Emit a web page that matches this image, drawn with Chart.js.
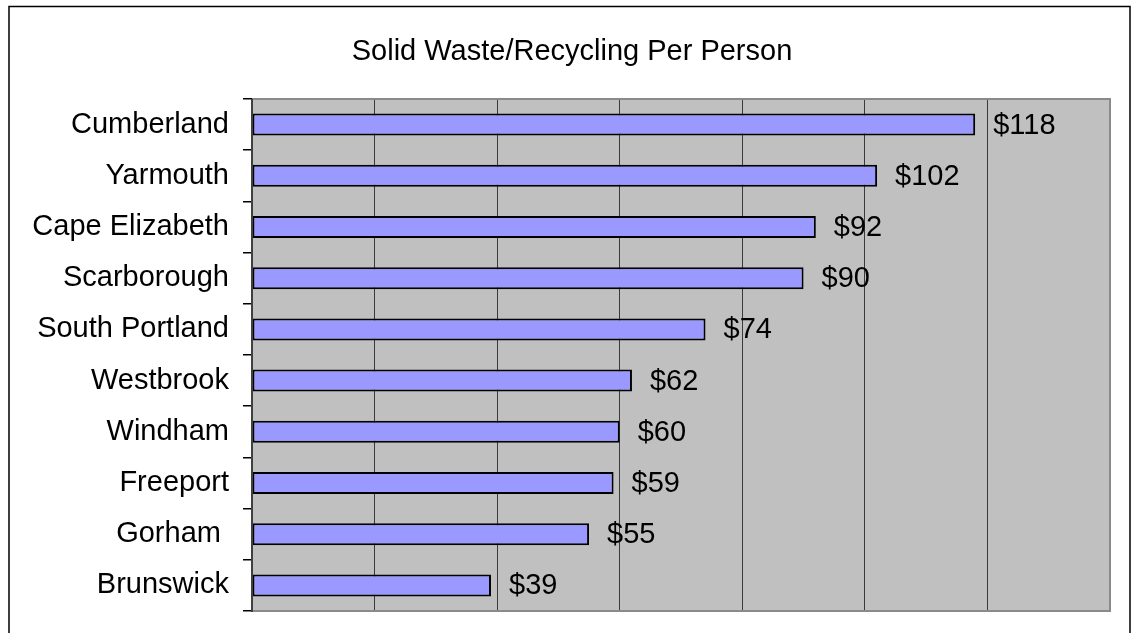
<!DOCTYPE html>
<html>
<head>
<meta charset="utf-8">
<script src="https://cdn.jsdelivr.net/npm/chart.js@4.4.1/dist/chart.umd.min.js"></script>
<style>
  html, body { margin: 0; padding: 0; background: #ffffff; overflow: hidden; }
  #wrap { position: relative; width: 1135px; height: 633px; }
</style>
</head>
<body>
<div id="wrap"><canvas id="c" width="1135" height="633"></canvas></div>
<script>
const titleText = "Solid Waste/Recycling Per Person";
const categories = ["Cumberland", "Yarmouth", "Cape Elizabeth", "Scarborough", "South Portland", "Westbrook", "Windham", "Freeport", "Gorham ", "Brunswick"];
const costPerPerson = [118, 102, 92, 90, 74, 62, 60, 59, 55, 39];
const xMin = 0, xMax = 140, xStep = 20;

const FONT = "'Liberation Sans', Arial, sans-serif";
const FS = 29;

const bgPlugin = {
  id: 'bgPlugin',
  beforeDraw(chart) {
    const {ctx, chartArea: a} = chart;
    ctx.save();
    ctx.fillStyle = '#c0c0c0';
    ctx.fillRect(a.left, a.top, a.right - a.left, a.bottom - a.top);
    ctx.restore();
  },
  afterDraw(chart) {
    const {ctx, chartArea: a} = chart;
    ctx.save();
    // title
    ctx.fillStyle = '#000';
    ctx.font = FS + 'px ' + FONT;
    ctx.textAlign = 'center';
    ctx.textBaseline = 'middle';
    ctx.fillText(titleText, 572, 52);
    // plot frame (grey) top/right/bottom
    ctx.strokeStyle = '#8a8a8a';
    ctx.lineWidth = 2;
    ctx.beginPath();
    ctx.moveTo(a.left, a.top); ctx.lineTo(a.right, a.top);
    ctx.lineTo(a.right, a.bottom); ctx.lineTo(a.left, a.bottom);
    ctx.stroke();
    // left axis line
    ctx.strokeStyle = '#404040';
    ctx.lineWidth = 2;
    ctx.beginPath();
    ctx.moveTo(a.left, a.top); ctx.lineTo(a.left, a.bottom + 1);
    ctx.stroke();
    // outer chart border (cut at bottom)
    ctx.strokeStyle = '#000000';
    ctx.lineWidth = 1.5;
    ctx.beginPath();
    ctx.moveTo(9, 640); ctx.lineTo(9, 6.5); ctx.lineTo(1130, 6.5); ctx.lineTo(1130, 640);
    ctx.stroke();
    // data labels
    const meta = chart.getDatasetMeta(0);
    ctx.textAlign = 'left';
    meta.data.forEach((bar, i) => {
      ctx.fillText('$' + costPerPerson[i], bar.x + 18, bar.y + 1);
    });
    ctx.restore();
  }
};

new Chart(document.getElementById('c'), {
  type: 'bar',
  data: {
    labels: categories,
    datasets: [{
      data: costPerPerson,
      backgroundColor: '#9999ff',
      borderColor: '#000000',
      borderWidth: 2,
      borderSkipped: false,
      barPercentage: 0.43,
      categoryPercentage: 1.0
    }]
  },
  options: {
    indexAxis: 'y',
    responsive: false,
    animation: false,
    events: [],
    layout: { padding: { left: 0, right: 25, top: 99, bottom: 22 } },
    plugins: {
      legend: { display: false },
      tooltip: { enabled: false },
      title: { display: false }
    },
    scales: {
      x: {
        min: xMin, max: xMax,
        ticks: { display: false, stepSize: xStep },
        grid: { color: '#3a3a3a', lineWidth: 1, drawTicks: false },
        border: { display: false },
        afterFit(s) { s.height = 0; s.paddingLeft = 0; s.paddingRight = 0; }
      },
      y: {
        ticks: { color: '#000', font: { family: FONT, size: FS }, padding: 14 },
        grid: { drawOnChartArea: false, drawTicks: true, tickLength: 9, color: '#000', lineWidth: 1.5, offset: true },
        border: { display: false },
        afterFit(s) { s.width = 252; s.paddingTop = 0; s.paddingBottom = 0; }
      }
    }
  },
  plugins: [bgPlugin]
});
</script>
</body>
</html>
